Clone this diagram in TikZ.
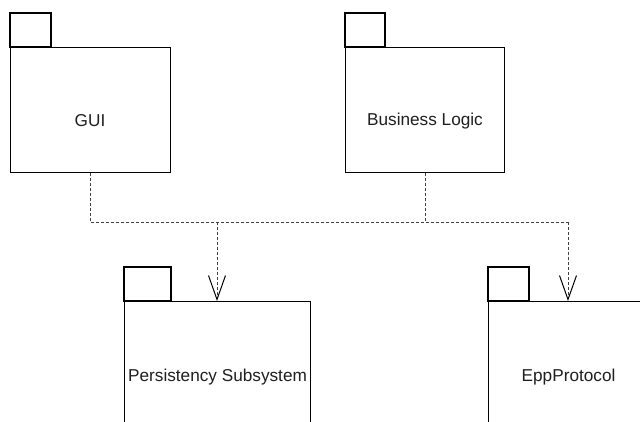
\documentclass[tikz,border=0pt]{standalone}
\usepackage{fontspec}
\setmainfont{Liberation Sans}
\usetikzlibrary{arrows.meta}
\begin{document}
\begin{tikzpicture}[x=1pt,y=-1pt,
  pkg/.style={draw, line width=1.1pt, inner sep=0pt, anchor=north west},
  pkgtab/.style={draw, line width=1.1pt},
  lbl/.style={font=\fontsize{17.2}{20}\selectfont, text=black!88, inner sep=0pt},
  dep/.style={draw=black!75, line width=0.8pt, dash pattern=on 3pt off 2pt},
  deparrow/.style={dep, -{Straight Barb[length=24pt,width=17pt,line width=1pt,color=black]}}]
  \useasboundingbox (0,0) rectangle (640,421);
  \fill[white] (0,0) rectangle (640,421);
  \clip (0,0) rectangle (640,421);

  % package bodies
  \node[pkg, minimum width=160pt, minimum height=125pt] (gui) at (10,47) {};
  \node[pkg, minimum width=159pt, minimum height=125pt] (biz) at (345,47) {};
  \node[pkg, minimum width=186pt, minimum height=150pt] (pers) at (124,301) {};
  \node[pkg, minimum width=160pt, minimum height=150pt] (epp) at (488,301) {};

  % package tabs
  \draw[pkgtab] (gui.north west) rectangle ++(41,-34);
  \draw[pkgtab] (biz.north west) rectangle ++(40,-34);
  \draw[pkgtab] (pers.north west) rectangle ++(47,-34);
  \draw[pkgtab] (epp.north west) rectangle ++(41,-34);

  % package names
  \node[lbl] (guiname) at (90,121) {GUI};
  \node[lbl] (bizname) at (425,121) {Business Logic};
  \node[lbl] (persname) at (pers.center) {Persistency Subsystem};
  \node[lbl] (eppname) at (epp.center) {EppProtocol};

  % dependency bus
  \coordinate (jg) at (90,222);
  \coordinate (jb) at (425,222);
  \coordinate (jp) at (217,222);
  \coordinate (je) at (568,222);
  \draw[dep] (gui.south -| jg) -- (jg) -- (je);
  \draw[dep] (biz.south -| jb) -- (jb);
  \draw[deparrow] (jp) -- (jp |- pers.north);
  \draw[deparrow] (je) -- (je |- epp.north);
\end{tikzpicture}
\end{document}
